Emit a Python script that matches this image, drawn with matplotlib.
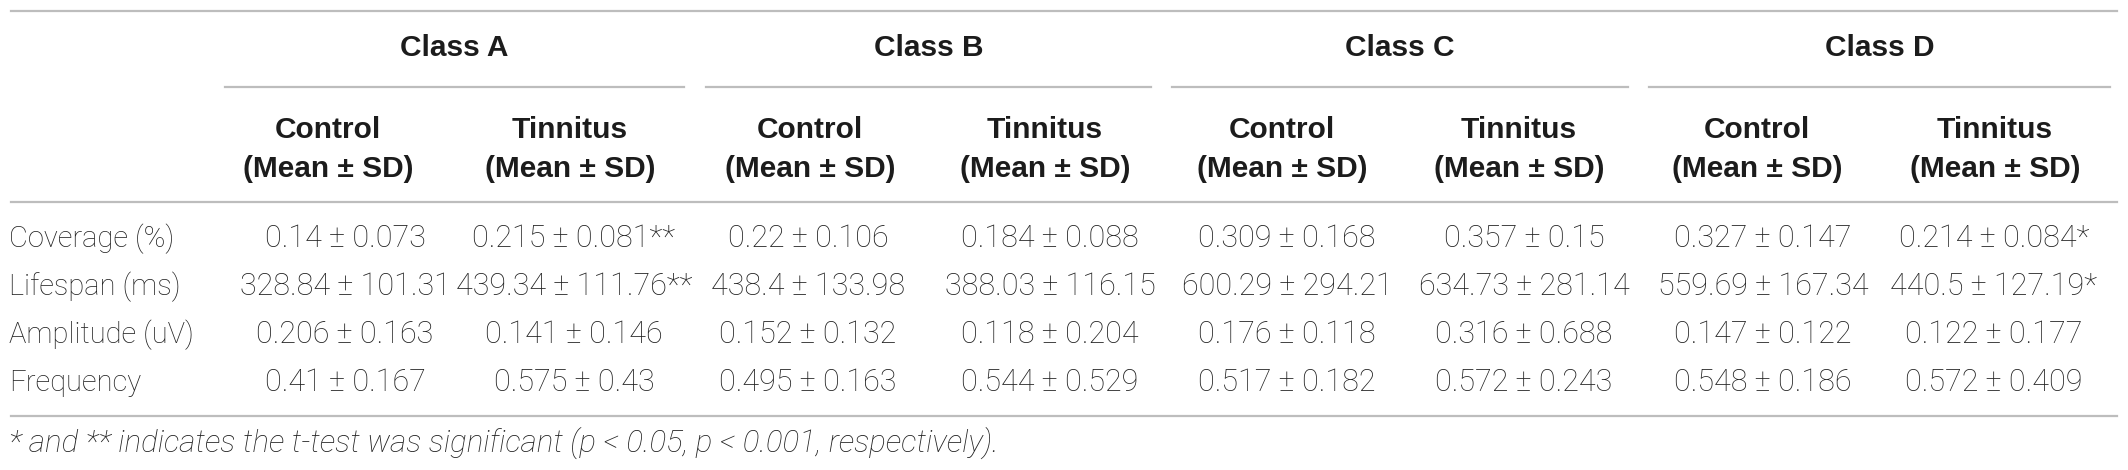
import matplotlib.pyplot as plt
from matplotlib.lines import Line2D

# table content
measures = ["Coverage (%)", "Lifespan (ms)", "Amplitude (uV)", "Frequency"]
classes = ["Class A", "Class B", "Class C", "Class D"]
groups = ["Control", "Tinnitus"]

# per class: rows are measures, columns are [control, tinnitus]
class_a_mean = [[0.14, 0.215], [328.84, 439.34], [0.206, 0.141], [0.41, 0.575]]
class_a_sd = [[0.073, 0.081], [101.31, 111.76], [0.163, 0.146], [0.167, 0.43]]
class_a_sig = [["", "**"], ["", "**"], ["", ""], ["", ""]]

class_b_mean = [[0.22, 0.184], [438.4, 388.03], [0.152, 0.118], [0.495, 0.544]]
class_b_sd = [[0.106, 0.088], [133.98, 116.15], [0.132, 0.204], [0.163, 0.529]]
class_b_sig = [["", ""], ["", ""], ["", ""], ["", ""]]

class_c_mean = [[0.309, 0.357], [600.29, 634.73], [0.176, 0.316], [0.517, 0.572]]
class_c_sd = [[0.168, 0.15], [294.21, 281.14], [0.118, 0.688], [0.182, 0.243]]
class_c_sig = [["", ""], ["", ""], ["", ""], ["", ""]]

class_d_mean = [[0.327, 0.214], [559.69, 440.5], [0.147, 0.122], [0.548, 0.572]]
class_d_sd = [[0.147, 0.084], [167.34, 127.19], [0.122, 0.177], [0.186, 0.409]]
class_d_sig = [["", "*"], ["", "*"], ["", ""], ["", ""]]

footnote = ("* and ** indicates the t-test was significant "
            "(p < 0.05, p < 0.001, respectively).")

means = [class_a_mean, class_b_mean, class_c_mean, class_d_mean]
sds = [class_a_sd, class_b_sd, class_c_sd, class_d_sd]
sigs = [class_a_sig, class_b_sig, class_c_sig, class_d_sig]

W, H = 2128, 470
fig = plt.figure(figsize=(W / 100, H / 100), dpi=100)
ax = fig.add_axes([0, 0, 1, 1])
ax.set_xlim(0, W)
ax.set_ylim(H, 0)
ax.axis("off")

txt = "#222222"
rule = "#bdbdbd"
bold = dict(family=["Liberation Sans", "DejaVu Sans"], fontweight="bold",
            fontsize=21.5, color="#1c1c1c")
light = dict(family=["Roboto", "DejaVu Sans"], fontweight="light",
             fontsize=22, color=txt)

# layout in pixel coordinates
header_x = [328, 570, 810, 1045, 1282, 1519, 1757, 1995]
data_x = [345, 574, 808, 1050, 1287, 1524, 1763, 1994]
class_spans = [(225, 684), (706, 1151), (1172, 1628), (1649, 2110)]
row_base = [247, 295, 343, 391]


def hline(x0, x1, y):
    ax.add_line(Line2D([x0, x1], [y, y], color=rule, lw=1.6))


hline(11, 2117, 11)
hline(11, 2117, 202)
hline(11, 2117, 416)

for k, name in enumerate(classes):
    x0, x1 = class_spans[k]
    hline(x0, x1, 87)
    ax.text((x0 + x1) / 2, 56, name, ha="center", va="baseline", **bold)
    for g, grp in enumerate(groups):
        x = header_x[2 * k + g]
        ax.text(x, 138, grp, ha="center", va="baseline", **bold)
        ax.text(x, 177, "(Mean \u00b1 SD)", ha="center", va="baseline", **bold)

label_style = dict(light, fontsize=21)
for r, label in enumerate(measures):
    ax.text(9, row_base[r], label, ha="left", va="baseline", **label_style)
    for k in range(len(classes)):
        for g in range(len(groups)):
            m = means[k][r][g]
            s = sds[k][r][g]
            cell = f"{m:g} \u00b1 {s:g}{sigs[k][r][g]}"
            ax.text(data_x[2 * k + g], row_base[r], cell,
                    ha="center", va="baseline", **light)

ax.text(9, 452, footnote, ha="left", va="baseline", style="italic",
        family=["Roboto", "DejaVu Sans"], fontweight="light", fontsize=22.5,
        color=txt)

fig.savefig("out.png", dpi=100, facecolor="white")
